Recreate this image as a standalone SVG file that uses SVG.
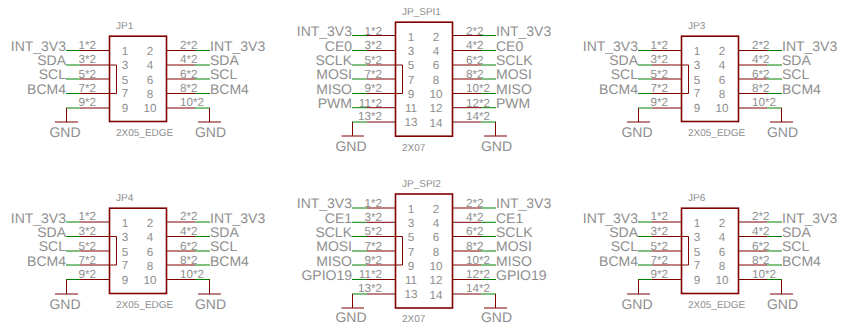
<svg xmlns="http://www.w3.org/2000/svg" width="841" height="323" viewBox="0 0 841 323">
<style>
text{font-family:"Liberation Sans",Arial,sans-serif;fill:#8e8e8e;text-rendering:geometricPrecision}
.n{font-size:14px}.e{text-anchor:end}.p{font-size:11.7px}.c{text-anchor:middle}.t{font-size:10px}
.b{fill:none;stroke:#800000;stroke-width:1.6}
.r{fill:none;stroke:#800000;stroke-width:1}.g{fill:none;stroke:#008000;stroke-width:1}
.s{fill:none;stroke:#800000;stroke-width:1}
</style>
<rect width="841" height="323" fill="#fff"/>
<g id="connectors">
<path class="r" d="M80 50.5H109M80 65H109M80 79H109M80 93.5H109M80 108H109M166 50.5H195M166 65H195M166 79H195M166 93.5H195M166 108H195"/>
<path class="g" d="M66 50.5H80M66 65H80M66 79H80M66 93.5H80M66 108H80M195 50.5H210M195 65H210M195 79H210M195 93.5H210M195 108H210"/>
<path class="s" d="M109 65H116.500V93.500H109M66.500 108V122M55 122H78M209.500 108V122M198 122H221"/>
<path class="r" d="M367 35.500H395M367 50.500H395M367 65H395M367 79H395M367 93.500H395M367 107.700H395M367 122H395M452 35.500H481M452 50.500H481M452 65H481M452 79H481M452 93.500H481M452 107.700H481M452 122H481"/>
<path class="g" d="M352 35.500H367M352 50.500H367M352 65H367M352 79H367M352 93.500H367M352 107.700H367M352 122H367M481 35.500H496M481 50.500H496M481 65H496M481 79H496M481 93.500H496M481 107.700H496M481 122H496"/>
<path class="s" d="M395 65H402.500V93.500H395M352.500 122V136M341.500 136H364M495.500 122V136M484 136H507"/>
<path class="r" d="M652 50.500H681M652 65H681M652 79H681M652 93.500H681M652 108H681M738 50.500H767M738 65H767M738 79H767M738 93.500H767M738 108H767"/>
<path class="g" d="M638 50.500H652M638 65H652M638 79H652M638 93.500H652M638 108H652M767 50.500H782M767 65H782M767 79H782M767 93.500H782M767 108H782"/>
<path class="s" d="M681 65H688.500V93.500H681M638.500 108V122M627 122H650M781.500 108V122M770 122H793"/>
<path class="r" d="M80 222H109M80 236.500H109M80 251H109M80 265H109M80 279.500H109M166 222H195M166 236.500H195M166 251H195M166 265H195M166 279.500H195"/>
<path class="g" d="M66 222H80M66 236.500H80M66 251H80M66 265H80M66 279.500H80M195 222H210M195 236.500H210M195 251H210M195 265H210M195 279.500H210"/>
<path class="s" d="M109 236.500H116.500V265H109M66.500 279.500V294M55 294H78M209.500 279.500V294M198 294H221"/>
<path class="r" d="M367 208H395M367 222.300H395M367 236.500H395M367 251H395M367 265H395M367 279.500H395M367 294H395M452 208H481M452 222.300H481M452 236.500H481M452 251H481M452 265H481M452 279.500H481M452 294H481"/>
<path class="g" d="M352 208H367M352 222.300H367M352 236.500H367M352 251H367M352 265H367M352 279.500H367M352 294H367M481 208H496M481 222.300H496M481 236.500H496M481 251H496M481 265H496M481 279.500H496M481 294H496"/>
<path class="s" d="M395 236.500H402.500V265H395M352.500 294V308M341.500 308H364M495.500 294V308M484 308H507"/>
<path class="r" d="M652 222H681M652 236.500H681M652 251H681M652 265H681M652 279.500H681M738 222H767M738 236.500H767M738 251H767M738 265H767M738 279.500H767"/>
<path class="g" d="M638 222H652M638 236.500H652M638 251H652M638 265H652M638 279.500H652M767 222H782M767 236.500H782M767 251H782M767 265H782M767 279.500H782"/>
<path class="s" d="M681 236.500H688.500V265H681M638.500 279.500V294M627 294H650M781.500 279.500V294M770 294H793"/>
</g>
<g id="JP1"><rect class="b" x="109.500" y="36.200" width="57" height="85.300"/>
<text class="t" x="116" y="29">JP1</text><text class="t" x="116" y="136">2X05_EDGE</text>
<g class="p"><text x="125" y="55" class="c">1</text><text x="150" y="55" class="c">2</text><text x="125" y="69" class="c">3</text><text x="150" y="69" class="c">4</text><text x="125" y="84" class="c">5</text><text x="150" y="84" class="c">6</text><text x="125" y="97" class="c">7</text><text x="150" y="98" class="c">8</text><text x="125" y="112" class="c">9</text><text x="150" y="112" class="c">10</text>
<text x="96" y="48.500" class="e">1*2</text><text x="96" y="63" class="e">3*2</text><text x="96" y="77.500" class="e">5*2</text><text x="96" y="92" class="e">7*2</text><text x="96" y="106" class="e">9*2</text>
<text x="180" y="48.500">2*2</text><text x="180" y="63">4*2</text><text x="180" y="77.500">6*2</text><text x="180" y="92">8*2</text><text x="180" y="106">10*2</text></g>
<g class="n"><text x="66" y="51" class="e">INT_3V3</text><text x="66" y="65" class="e">SDA</text><text x="66" y="79" class="e">SCL</text><text x="66" y="93.500" class="e">BCM4</text><text x="210" y="51">INT_3V3</text><text x="210" y="65">SDA</text><text x="210" y="79">SCL</text><text x="210" y="93.500">BCM4</text><text x="65" y="136.500" class="c">GND</text><text x="210.500" y="136.500" class="c">GND</text></g></g>
<g id="JP_SPI1"><rect class="b" x="395.500" y="22.200" width="57" height="114"/>
<text class="t" x="402" y="15">JP_SPI1</text><text class="t" x="402" y="151">2X07</text>
<g class="p"><text x="411" y="41" class="c">1</text><text x="436" y="41" class="c">2</text><text x="411" y="55" class="c">3</text><text x="436" y="55" class="c">4</text><text x="411" y="69" class="c">5</text><text x="436" y="69" class="c">6</text><text x="411" y="83.500" class="c">7</text><text x="436" y="84" class="c">8</text><text x="411" y="98" class="c">9</text><text x="436" y="98" class="c">10</text><text x="411" y="112" class="c">11</text><text x="436" y="112" class="c">12</text><text x="411" y="126" class="c">13</text><text x="436" y="127" class="c">14</text>
<text x="382" y="34.500" class="e">1*2</text><text x="382" y="49" class="e">3*2</text><text x="382" y="63.500" class="e">5*2</text><text x="382" y="78" class="e">7*2</text><text x="382" y="92" class="e">9*2</text><text x="382" y="106.500" class="e">11*2</text><text x="382" y="120" class="e">13*2</text>
<text x="466" y="34.500">2*2</text><text x="466" y="49">4*2</text><text x="466" y="63.500">6*2</text><text x="466" y="78">8*2</text><text x="466" y="92">10*2</text><text x="466" y="106.500">12*2</text><text x="466" y="120">14*2</text></g>
<g class="n"><text x="352" y="36" class="e">INT_3V3</text><text x="352" y="50.500" class="e">CE0</text><text x="352" y="65" class="e">SCLK</text><text x="352" y="79" class="e">MOSI</text><text x="352" y="93.500" class="e">MISO</text><text x="352" y="107.500" class="e">PWM</text><text x="496" y="36">INT_3V3</text><text x="496" y="50.500">CE0</text><text x="496" y="65">SCLK</text><text x="496" y="79">MOSI</text><text x="496" y="93.500">MISO</text><text x="496" y="107.500">PWM</text><text x="351" y="150.700" class="c">GND</text><text x="496.500" y="150.700" class="c">GND</text></g></g>
<g id="JP3"><rect class="b" x="681.500" y="36.200" width="57" height="85.300"/>
<text class="t" x="688" y="29">JP3</text><text class="t" x="688" y="136">2X05_EDGE</text>
<g class="p"><text x="697" y="55" class="c">1</text><text x="722" y="55" class="c">2</text><text x="697" y="69" class="c">3</text><text x="722" y="69" class="c">4</text><text x="697" y="84" class="c">5</text><text x="722" y="84" class="c">6</text><text x="697" y="97" class="c">7</text><text x="722" y="98" class="c">8</text><text x="697" y="112" class="c">9</text><text x="722" y="112" class="c">10</text>
<text x="668" y="48.500" class="e">1*2</text><text x="668" y="63" class="e">3*2</text><text x="668" y="77.500" class="e">5*2</text><text x="668" y="92" class="e">7*2</text><text x="668" y="106" class="e">9*2</text>
<text x="752" y="48.500">2*2</text><text x="752" y="63">4*2</text><text x="752" y="77.500">6*2</text><text x="752" y="92">8*2</text><text x="752" y="106">10*2</text></g>
<g class="n"><text x="638" y="51" class="e">INT_3V3</text><text x="638" y="65" class="e">SDA</text><text x="638" y="79" class="e">SCL</text><text x="638" y="93.500" class="e">BCM4</text><text x="782" y="51">INT_3V3</text><text x="782" y="65">SDA</text><text x="782" y="79">SCL</text><text x="782" y="93.500">BCM4</text><text x="637" y="136.500" class="c">GND</text><text x="782.500" y="136.500" class="c">GND</text></g></g>
<g id="JP4"><rect class="b" x="109.500" y="208.200" width="57" height="85.300"/>
<text class="t" x="116" y="201">JP4</text><text class="t" x="116" y="308">2X05_EDGE</text>
<g class="p"><text x="125" y="227" class="c">1</text><text x="150" y="227" class="c">2</text><text x="125" y="241" class="c">3</text><text x="150" y="241" class="c">4</text><text x="125" y="255.500" class="c">5</text><text x="150" y="255.500" class="c">6</text><text x="125" y="269" class="c">7</text><text x="150" y="270" class="c">8</text><text x="125" y="284" class="c">9</text><text x="150" y="284" class="c">10</text>
<text x="96" y="219.500" class="e">1*2</text><text x="96" y="235" class="e">3*2</text><text x="96" y="249.500" class="e">5*2</text><text x="96" y="263.500" class="e">7*2</text><text x="96" y="277.500" class="e">9*2</text>
<text x="180" y="219.500">2*2</text><text x="180" y="235">4*2</text><text x="180" y="249.500">6*2</text><text x="180" y="263.500">8*2</text><text x="180" y="277.500">10*2</text></g>
<g class="n"><text x="66" y="222.500" class="e">INT_3V3</text><text x="66" y="237" class="e">SDA</text><text x="66" y="251" class="e">SCL</text><text x="66" y="265.500" class="e">BCM4</text><text x="210" y="222.500">INT_3V3</text><text x="210" y="237">SDA</text><text x="210" y="251">SCL</text><text x="210" y="265.500">BCM4</text><text x="65" y="308.500" class="c">GND</text><text x="210.500" y="308.500" class="c">GND</text></g></g>
<g id="JP_SPI2"><rect class="b" x="395.500" y="194" width="57" height="114"/>
<text class="t" x="402" y="187">JP_SPI2</text><text class="t" x="402" y="322">2X07</text>
<g class="p"><text x="411" y="213" class="c">1</text><text x="436" y="213" class="c">2</text><text x="411" y="227" class="c">3</text><text x="436" y="227" class="c">4</text><text x="411" y="241" class="c">5</text><text x="436" y="241" class="c">6</text><text x="411" y="255.500" class="c">7</text><text x="436" y="256" class="c">8</text><text x="411" y="270" class="c">9</text><text x="436" y="270" class="c">10</text><text x="411" y="284" class="c">11</text><text x="436" y="284" class="c">12</text><text x="411" y="298" class="c">13</text><text x="436" y="299" class="c">14</text>
<text x="382" y="206.500" class="e">1*2</text><text x="382" y="220.500" class="e">3*2</text><text x="382" y="235" class="e">5*2</text><text x="382" y="249.500" class="e">7*2</text><text x="382" y="263.500" class="e">9*2</text><text x="382" y="277.500" class="e">11*2</text><text x="382" y="291.700" class="e">13*2</text>
<text x="466" y="206.500">2*2</text><text x="466" y="220.500">4*2</text><text x="466" y="235">6*2</text><text x="466" y="249.500">8*2</text><text x="466" y="263.500">10*2</text><text x="466" y="277.500">12*2</text><text x="466" y="291.700">14*2</text></g>
<g class="n"><text x="352" y="208" class="e">INT_3V3</text><text x="352" y="222.500" class="e">CE1</text><text x="352" y="237" class="e">SCLK</text><text x="352" y="251" class="e">MOSI</text><text x="352" y="265.500" class="e">MISO</text><text x="352" y="279.500" class="e">GPIO19</text><text x="496" y="208">INT_3V3</text><text x="496" y="222.500">CE1</text><text x="496" y="237">SCLK</text><text x="496" y="251">MOSI</text><text x="496" y="265.500">MISO</text><text x="496" y="279.500">GPIO19</text><text x="351" y="322" class="c">GND</text><text x="496.500" y="322" class="c">GND</text></g></g>
<g id="JP6"><rect class="b" x="681.500" y="208.200" width="57" height="85.300"/>
<text class="t" x="688" y="201">JP6</text><text class="t" x="688" y="308">2X05_EDGE</text>
<g class="p"><text x="697" y="227" class="c">1</text><text x="722" y="227" class="c">2</text><text x="697" y="241" class="c">3</text><text x="722" y="241" class="c">4</text><text x="697" y="255.500" class="c">5</text><text x="722" y="255.500" class="c">6</text><text x="697" y="269" class="c">7</text><text x="722" y="270" class="c">8</text><text x="697" y="284" class="c">9</text><text x="722" y="284" class="c">10</text>
<text x="668" y="219.500" class="e">1*2</text><text x="668" y="235" class="e">3*2</text><text x="668" y="249.500" class="e">5*2</text><text x="668" y="263.500" class="e">7*2</text><text x="668" y="277.500" class="e">9*2</text>
<text x="752" y="219.500">2*2</text><text x="752" y="235">4*2</text><text x="752" y="249.500">6*2</text><text x="752" y="263.500">8*2</text><text x="752" y="277.500">10*2</text></g>
<g class="n"><text x="638" y="222.500" class="e">INT_3V3</text><text x="638" y="237" class="e">SDA</text><text x="638" y="251" class="e">SCL</text><text x="638" y="265.500" class="e">BCM4</text><text x="782" y="222.500">INT_3V3</text><text x="782" y="237">SDA</text><text x="782" y="251">SCL</text><text x="782" y="265.500">BCM4</text><text x="637" y="308.500" class="c">GND</text><text x="782.500" y="308.500" class="c">GND</text></g></g>
</svg>
